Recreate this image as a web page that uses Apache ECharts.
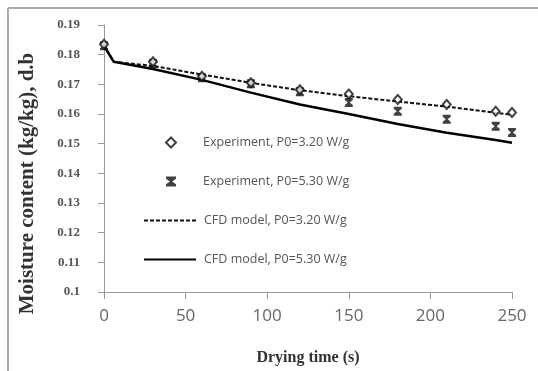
<!DOCTYPE html>
<html><head><meta charset="utf-8">
<script src="https://cdn.jsdelivr.net/npm/echarts@6/dist/echarts.min.js"></script>
<style>html,body{margin:0;padding:0;background:#fff}#c{width:538px;height:371px}</style>
</head><body><div id="c"></div>
<script>
var expTimes = [0, 30, 60, 90, 120, 150, 180, 210, 240, 250];
var exp320 = [0.1835, 0.1776, 0.1727, 0.1705, 0.1682, 0.1667, 0.1649, 0.1632, 0.1609, 0.1605];
var exp530 = [0.1830, 0.1770, 0.1722, 0.1702, 0.1675, 0.1639, 0.1609, 0.1582, 0.1559, 0.1538];
var cfdTimes = [0, 6, 30, 60, 90, 120, 150, 180, 210, 240, 250];
var cfd320 = [0.1830, 0.1776, 0.1762, 0.1733, 0.1705, 0.1680, 0.1660, 0.1642, 0.1625, 0.1604, 0.1597];
var cfd530 = [0.1830, 0.1776, 0.1752, 0.1715, 0.1672, 0.1632, 0.1600, 0.1566, 0.1537, 0.1512, 0.1503];
var seriesNames = ['Experiment, P0=3.20 W/g', 'Experiment, P0=5.30 W/g', 'CFD model, P0=3.20 W/g', 'CFD model, P0=5.30 W/g'];

function pairs(xs, ys){ return xs.map(function(x,i){ return [x, ys[i]]; }); }
var hourglass = 'path://M0,0 L10,0 L10,2.2 L6.2,5 L10,7.8 L10,10 L0,10 L0,7.8 L3.8,5 L0,2.2 Z';

var chart = echarts.init(document.getElementById('c'));
var legendText = {color:'#555', fontFamily:'Open Sans', fontSize:12.5, lineHeight:15};
chart.setOption({
  animation:false,
  backgroundColor:'#fff',
  grid:{left:104, right:26, top:25, bottom:77},
  graphic:[
    {type:'line', shape:{x1:8, y1:8, x2:538, y2:8}, style:{stroke:'#aaa', lineWidth:2}},
    {type:'line', shape:{x1:8, y1:8, x2:8, y2:371}, style:{stroke:'#aaa', lineWidth:2}}
  ],
  legend:[
    {data:[seriesNames[0], seriesNames[1]], orient:'vertical', left:160, top:130, itemWidth:10, itemHeight:10, itemGap:24,
     textStyle:Object.assign({padding:[0,0,0,22]}, legendText)},
    {data:[seriesNames[2], seriesNames[3]], orient:'vertical', left:138, top:208, itemWidth:52, itemHeight:10, itemGap:24,
     itemStyle:{opacity:0},
     textStyle:Object.assign({padding:[0,0,0,3]}, legendText)}
  ],
  xAxis:{type:'value', min:0, max:250, interval:50,
    name:'Drying time (s)', nameLocation:'middle', nameGap:58,
    nameTextStyle:{fontFamily:'Liberation Serif', fontWeight:'bold', fontSize:16, color:'#333'},
    axisLine:{lineStyle:{color:'#999', width:1}},
    axisTick:{show:true, length:7, lineStyle:{color:'#999'}},
    axisLabel:{fontFamily:'Open Sans', fontSize:17, color:'#666', margin:16},
    splitLine:{show:false}},
  yAxis:{type:'value', min:0.1, max:0.19, interval:0.01,
    name:'Moisture content (kg/kg), d.b', nameLocation:'middle', nameGap:66,
    nameTextStyle:{fontFamily:'Liberation Serif', fontWeight:'bold', fontSize:21, color:'#333', padding:[0,50,0,0]},
    axisLine:{show:true, lineStyle:{color:'#999', width:1}},
    axisTick:{show:true, length:6, lineStyle:{color:'#999'}},
    axisLabel:{fontFamily:'Liberation Serif', fontWeight:'bold', fontSize:13, color:'#555', margin:24},
    splitLine:{show:false}},
  series:[
    {name:seriesNames[2], type:'line', data:pairs(cfdTimes, cfd320), symbol:'none', z:2,
     lineStyle:{color:'#111', width:2, type:[4,2]}, itemStyle:{color:'#111'}},
    {name:seriesNames[3], type:'line', data:pairs(cfdTimes, cfd530), symbol:'none', z:2,
     lineStyle:{color:'#000', width:2.5}, itemStyle:{color:'#000'}},
    {name:seriesNames[0], type:'scatter', data:pairs(expTimes, exp320), symbol:'diamond', symbolSize:[8,9], z:4,
     itemStyle:{color:'#fff', borderColor:'#111', borderWidth:2}},
    {name:seriesNames[1], type:'scatter', data:pairs(expTimes, exp530), symbol:hourglass, symbolSize:[8,9], z:3,
     itemStyle:{color:'#111'}}
  ]
});
</script></body></html>
